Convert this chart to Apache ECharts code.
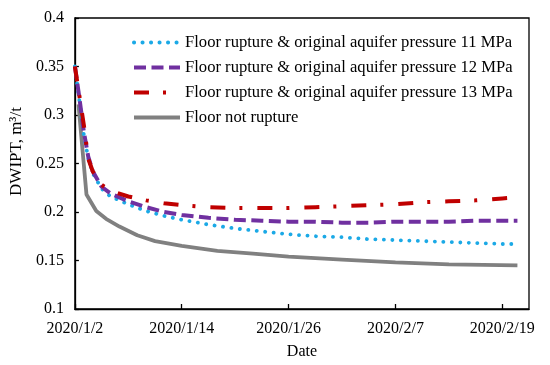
<!DOCTYPE html>
<html>
<head>
<meta charset="utf-8">
<script src="https://cdn.jsdelivr.net/npm/echarts@6/dist/echarts.min.js"></script>
<style>html,body{margin:0;padding:0;background:#fff}#c{width:550px;height:365px}</style>
</head>
<body>
<div id="c"></div>
<script>
// day offsets from 2020/1/2
var startDate = [2020, 1, 2];
var daysRupture = [0, 0.5, 1, 1.5, 2, 3, 4, 5, 6, 8, 10, 12, 15, 18, 21, 24, 27, 30, 33, 36, 39, 42, 45, 48, 49.7];
var p11 = [0.350, 0.315, 0.280, 0.255, 0.240, 0.224, 0.216, 0.212, 0.208, 0.201, 0.196, 0.192, 0.187, 0.183, 0.180, 0.177, 0.175, 0.174, 0.172, 0.171, 0.170, 0.169, 0.168, 0.167, 0.167];
var p12 = [0.350, 0.318, 0.283, 0.257, 0.242, 0.226, 0.219, 0.215, 0.211, 0.205, 0.200, 0.197, 0.194, 0.192, 0.191, 0.190, 0.190, 0.189, 0.189, 0.190, 0.190, 0.190, 0.191, 0.191, 0.191];
var p13 = [0.350, 0.320, 0.290, 0.255, 0.242, 0.228, 0.222, 0.219, 0.216, 0.212, 0.209, 0.207, 0.205, 0.204, 0.204, 0.204, 0.205, 0.206, 0.207, 0.208, 0.210, 0.211, 0.212, 0.214, 0.215];
var daysNo = [0.4, 1.3, 2.4, 3.5, 5, 7, 9, 12, 16, 20, 24, 30, 36, 42, 49.7];
var noRupture = [0.311, 0.218, 0.201, 0.193, 0.185, 0.176, 0.170, 0.165, 0.160, 0.157, 0.154, 0.151, 0.148, 0.146, 0.145];
var names = [
  'Floor rupture & original aquifer pressure 11 MPa',
  'Floor rupture & original aquifer pressure 12 MPa',
  'Floor rupture & original aquifer pressure 13 MPa',
  'Floor not rupture'
];

function pairs(xs, ys) { return xs.map(function (x, i) { return [x, ys[i]]; }); }
function fmtDate(v) {
  var d = new Date(startDate[0], startDate[1] - 1, startDate[2] + Math.round(v));
  return d.getFullYear() + '/' + (d.getMonth() + 1) + '/' + d.getDate();
}
var font = '"Liberation Serif", "Times New Roman", serif';

var chart = echarts.init(document.getElementById('c'), null, {renderer: 'canvas'});
chart.setOption({
  animation: false,
  backgroundColor: '#fff',
  grid: {left: 71, right: 21, top: 18, bottom: 53, show: true, borderColor: '#000', borderWidth: 1.3, backgroundColor: 'transparent'},
  legend: {
    orient: 'vertical', left: 127, top: 29, itemWidth: 46, itemHeight: 14, itemGap: 8,
    itemStyle: {opacity: 0},
    lineStyle: {width: 4},
    textStyle: {fontFamily: font, fontSize: 16.6, color: '#000', lineHeight: 17},
    data: names
  },
  xAxis: {
    type: 'value', min: 0, max: 51, interval: 12,
    name: 'Date', nameLocation: 'middle', nameGap: 35,
    nameTextStyle: {fontFamily: font, fontSize: 16, color: '#000'},
    axisLine: {lineStyle: {color: '#000', width: 1.3}},
    axisTick: {inside: true, length: 5, lineStyle: {color: '#000', width: 1.3}},
    axisLabel: {fontFamily: font, fontSize: 16, color: '#000', margin: 12, showMaxLabel: false, formatter: fmtDate},
    splitLine: {show: false}
  },
  yAxis: {
    type: 'value', min: 0.1, max: 0.4, interval: 0.05,
    name: 'DWIPT, m\u00B3/t', nameLocation: 'middle', nameGap: 47,
    nameTextStyle: {fontFamily: font, fontSize: 17, color: '#000', padding: [0, 0, 0, 24]},
    axisLine: {show: true, lineStyle: {color: '#000', width: 1.3}},
    axisTick: {show: true, inside: true, length: 4, lineStyle: {color: '#000', width: 1.3}},
    axisLabel: {fontFamily: font, fontSize: 16, color: '#000', margin: 11},
    splitLine: {show: false}
  },
  series: [
    {name: names[0], type: 'line', showSymbol: false, symbol: 'none', data: pairs(daysRupture, p11), z: 3,
     lineStyle: {color: '#1BA9E6', width: 3.8, type: [0.1, 8.4], cap: 'round'}, itemStyle: {color: '#1BA9E6'}},
    {name: names[1], type: 'line', showSymbol: false, symbol: 'none', data: pairs(daysRupture, p12), z: 4,
     lineStyle: {color: '#7030A0', width: 4, type: [12, 5.5], cap: 'butt'}, itemStyle: {color: '#7030A0'}},
    {name: names[2], type: 'line', showSymbol: false, symbol: 'none', data: pairs(daysRupture, p13), z: 5,
     lineStyle: {color: '#C00000', width: 4, type: [15, 14, 3, 15], cap: 'butt'}, itemStyle: {color: '#C00000'}},
    {name: names[3], type: 'line', showSymbol: false, symbol: 'none', data: pairs(daysNo, noRupture), z: 2,
     lineStyle: {color: '#808080', width: 3.8, type: 'solid'}, itemStyle: {color: '#808080'}}
  ]
});
</script>
</body>
</html>
